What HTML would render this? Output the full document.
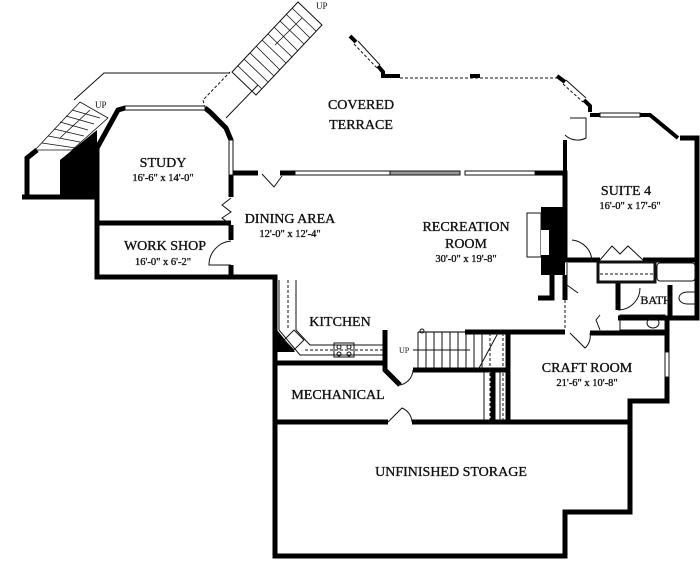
<!DOCTYPE html>
<html><head><meta charset="utf-8"><style>
html,body{margin:0;padding:0;background:#fff;}
svg{display:block}
text{font-family:"Liberation Serif",serif;fill:#111;}
.l{stroke:#111;stroke-width:0.35px;}
</style></head><body>
<svg width="700" height="562" viewBox="0 0 700 562" xmlns="http://www.w3.org/2000/svg">
<rect width="700" height="562" fill="#fff"/>
<g fill="none" stroke="#111" stroke-width="1">
<polyline points="74,100 104,73 230,73"/>
<polyline points="205,108 203,100 230,72" stroke-dasharray="3,2"/>
<line x1="226" y1="118" x2="258" y2="85"/>
</g>
<g stroke="#111" stroke-width="1" fill="none">
<polygon points="232,72 298,2 322,25 256,95"/>
</g>
<g stroke="#111" stroke-width="0.8">
<line x1="238" y1="66" x2="262" y2="89"/><line x1="244" y1="59" x2="268" y2="82"/>
<line x1="250" y1="53" x2="274" y2="76"/><line x1="256" y1="46" x2="280" y2="70"/>
<line x1="262" y1="40" x2="286" y2="63"/><line x1="268" y1="34" x2="292" y2="57"/>
<line x1="274" y1="27" x2="298" y2="51"/><line x1="280" y1="21" x2="304" y2="44"/>
<line x1="286" y1="14" x2="310" y2="38"/><line x1="292" y1="8" x2="316" y2="31"/>
<line x1="275" y1="45" x2="302" y2="18"/>
</g>
<text x="316" y="9" font-size="9">UP</text>
<g stroke="#111" stroke-width="0.8" fill="none">
<polygon points="35,150 80,102 108,118 72,150"/>
<line x1="42" y1="143" x2="76" y2="148"/><line x1="48" y1="136" x2="80" y2="142"/>
<line x1="54" y1="129" x2="84" y2="136"/><line x1="60" y1="122" x2="88" y2="130"/>
<line x1="66" y1="116" x2="94" y2="124"/><line x1="72" y1="110" x2="100" y2="118"/>
<line x1="60" y1="138" x2="90" y2="110"/>
</g>
<text x="95" y="108" font-size="9">UP</text>
<g fill="none" stroke="#000" stroke-width="5" stroke-linejoin="miter">
<polyline points="22,197 97,197 97,277 275,277 275,556 565,556 565,512 630,512 630,401 667,401 667,318 697,318 697,138 680,138"/>
<polyline points="27,197 27,158 37,150"/>
<polyline points="97,197 97,148 118,110 125,108"/>
<polyline points="205,108 210,112 226,128 231,140 231,150"/>
<polyline points="231,175 231,197"/>
<polyline points="231,225 231,240"/>
<polyline points="231,265 231,277"/>
<line x1="97" y1="223" x2="231" y2="223"/>
<polyline points="231,173 258,173"/>
<polyline points="280,173 295,173"/>
<polyline points="535,173 565,173 565,260 600,260"/>
<polyline points="643,260 697,260"/>
<line x1="275" y1="363" x2="385" y2="363"/>
<polyline points="385,330 385,370 400,385"/>
<line x1="413" y1="370" x2="508" y2="370"/>
<line x1="275" y1="422" x2="388" y2="422"/>
<line x1="412" y1="422" x2="630" y2="422"/>
<line x1="508" y1="333" x2="508" y2="422"/>
<line x1="493" y1="372" x2="493" y2="422"/>
<line x1="465" y1="332" x2="565" y2="332"/>
<line x1="590" y1="333" x2="667" y2="333"/>
<line x1="618" y1="282" x2="618" y2="310"/>
<line x1="618" y1="318" x2="668" y2="318"/>
<line x1="670" y1="285" x2="670" y2="318"/>
<line x1="565" y1="275" x2="565" y2="300"/>
<polyline points="538,298 552,298 552,275"/>
</g>
<g fill="none" stroke="#000" stroke-width="4">
<polyline points="350,36 356,42"/>
<polyline points="378,66 383,72 383,76 400,76"/>
<line x1="470" y1="76" x2="480" y2="76"/>
<polyline points="557,76 565,82"/>
<polyline points="584,100 590,106 590,112"/>
<polyline points="590,115 600,115"/>
<polyline points="640,115 650,115 678,138"/>
<polyline points="565,140 565,175"/>
</g>
<g fill="none" stroke="#111" stroke-width="1">
<line x1="358" y1="41" x2="380" y2="65"/>
<line x1="354" y1="44" x2="377" y2="68" stroke-dasharray="3,2"/>
<line x1="566" y1="80" x2="586" y2="98"/>
<line x1="563" y1="84" x2="583" y2="102" stroke-dasharray="3,2"/>
<line x1="400" y1="78" x2="557" y2="78" stroke-dasharray="3,2"/>
</g>
<g fill="#fff" stroke="#111" stroke-width="1">
<rect x="125" y="106" width="80" height="4"/>
<rect x="229" y="140" width="4" height="35"/>
<rect x="295" y="171" width="95" height="4"/>
<rect x="390" y="171" width="70" height="4" fill="#999"/>
<rect x="465" y="171" width="70" height="4"/>
<rect x="600" y="113" width="40" height="4"/>
<rect x="665" y="352" width="4" height="25"/>
</g>
<rect x="541" y="207" width="24" height="68" fill="#000"/>
<rect x="527" y="213" width="14" height="44" fill="#fff" stroke="#111"/>
<rect x="541" y="230" width="8" height="25" fill="#fff"/>
<polygon points="60,197 97,197 97,130 60,160" fill="#000"/>
<polygon points="277,330 277,352 295,352" fill="#000"/>
<g fill="none" stroke="#111" stroke-width="1">
<rect x="598" y="262" width="57" height="20" stroke-width="3"/>
<line x1="600" y1="274" x2="653" y2="274" stroke-dasharray="3,2"/>
<rect x="657" y="263" width="38" height="18" rx="3"/>
<rect x="620" y="315" width="45" height="15"/>
<ellipse cx="653" cy="323" rx="6" ry="5"/>
<path d="M697,292 L688,292 C676,292 676,304 688,304 L697,304"/>
<polyline points="600,260 612,246 620,254 628,246 643,260"/>
<path d="M572,240 A22,22 0 0 1 592,262"/>
<path d="M618,310 A22,22 0 0 0 640,288"/>
</g>
<g fill="none" stroke="#111" stroke-width="1">
<polyline points="279,280 279,330 300,355 383,355"/>
<polyline points="296,280 296,330 310,345 383,345"/>
<line x1="288" y1="280" x2="288" y2="330" stroke-dasharray="3,2"/>
<line x1="305" y1="350" x2="383" y2="350" stroke-dasharray="3,2"/>
<rect x="287" y="333" width="14" height="14" transform="rotate(45 294 340)"/>
<rect x="334" y="343" width="20" height="14"/>
<circle cx="339" cy="347" r="2"/><circle cx="349" cy="347" r="2"/>
<circle cx="339" cy="354" r="2"/><circle cx="349" cy="354" r="2"/>
</g>
<g stroke="#111" stroke-width="1" fill="none">
<line x1="418" y1="332" x2="465" y2="332" stroke="#777" stroke-width="2"/>
<circle cx="422" cy="331" r="2"/>
<line x1="418" y1="332" x2="418" y2="370"/>
<line x1="426" y1="332" x2="426" y2="370"/><line x1="434" y1="332" x2="434" y2="370"/>
<line x1="442" y1="332" x2="442" y2="370"/><line x1="450" y1="332" x2="450" y2="370"/>
<line x1="458" y1="332" x2="458" y2="370"/><line x1="466" y1="332" x2="466" y2="370"/>
<line x1="474" y1="332" x2="474" y2="370"/><line x1="482" y1="332" x2="482" y2="370"/>
<line x1="413" y1="350" x2="470" y2="350"/>
<line x1="478" y1="370" x2="498" y2="333"/>
<line x1="484" y1="372" x2="484" y2="420"/><line x1="500" y1="372" x2="500" y2="420"/>
<line x1="490" y1="333" x2="490" y2="420" stroke-dasharray="3,2"/>
<line x1="503" y1="333" x2="503" y2="420" stroke-dasharray="3,2"/>
</g>
<text x="399" y="353" font-size="8">UP</text>
<g fill="none" stroke="#111" stroke-width="1">
<path d="M262,174 L274,187 L282,176"/>
<polyline points="231,198 222,205 231,212 222,218 231,225"/>
<path d="M231,241 A24,24 0 0 0 209,265 L231,265"/>
<path d="M385,370 L400,385 A16,16 0 0 0 413,370"/>
<path d="M388,422 L402,408 A16,16 0 0 1 412,422"/>
<path d="M570,118 L586,118 L586,138 A18,18 0 0 1 565,135"/>
<path d="M567,263 L567,285 L578,293"/>
<path d="M570,333 L585,348 A16,16 0 0 0 590,333"/>
<path d="M600,315 L596,320 L600,330"/>
<line x1="565" y1="300" x2="565" y2="330" stroke-dasharray="3,2"/>
</g>
<g text-anchor="middle" class="l">
<text x="361" y="109" font-size="14">COVERED</text>
<text x="361" y="129" font-size="14">TERRACE</text>
<text x="163" y="167" font-size="14">STUDY</text>
<text x="163" y="181" font-size="10.5">16'-6" x 14'-0"</text>
<text x="290" y="223" font-size="14">DINING AREA</text>
<text x="290" y="237" font-size="10.5">12'-0" x 12'-4"</text>
<text x="466" y="231" font-size="14">RECREATION</text>
<text x="466" y="248" font-size="14">ROOM</text>
<text x="466" y="262" font-size="10.5">30'-0" x 19'-8"</text>
<text x="626" y="195" font-size="14">SUITE 4</text>
<text x="630" y="209" font-size="10.5">16'-0" x 17'-6"</text>
<text x="165" y="250" font-size="14">WORK SHOP</text>
<text x="163" y="265" font-size="10.5">16'-0" x 6'-2"</text>
<text x="340" y="326" font-size="14">KITCHEN</text>
<text x="656" y="304" font-size="12">BATH</text>
<text x="587" y="372" font-size="14">CRAFT ROOM</text>
<text x="587" y="386" font-size="10.5">21'-6" x 10'-8"</text>
<text x="338" y="399" font-size="14">MECHANICAL</text>
<text x="451" y="476" font-size="14">UNFINISHED STORAGE</text>
</g>
</svg>
</body></html>
